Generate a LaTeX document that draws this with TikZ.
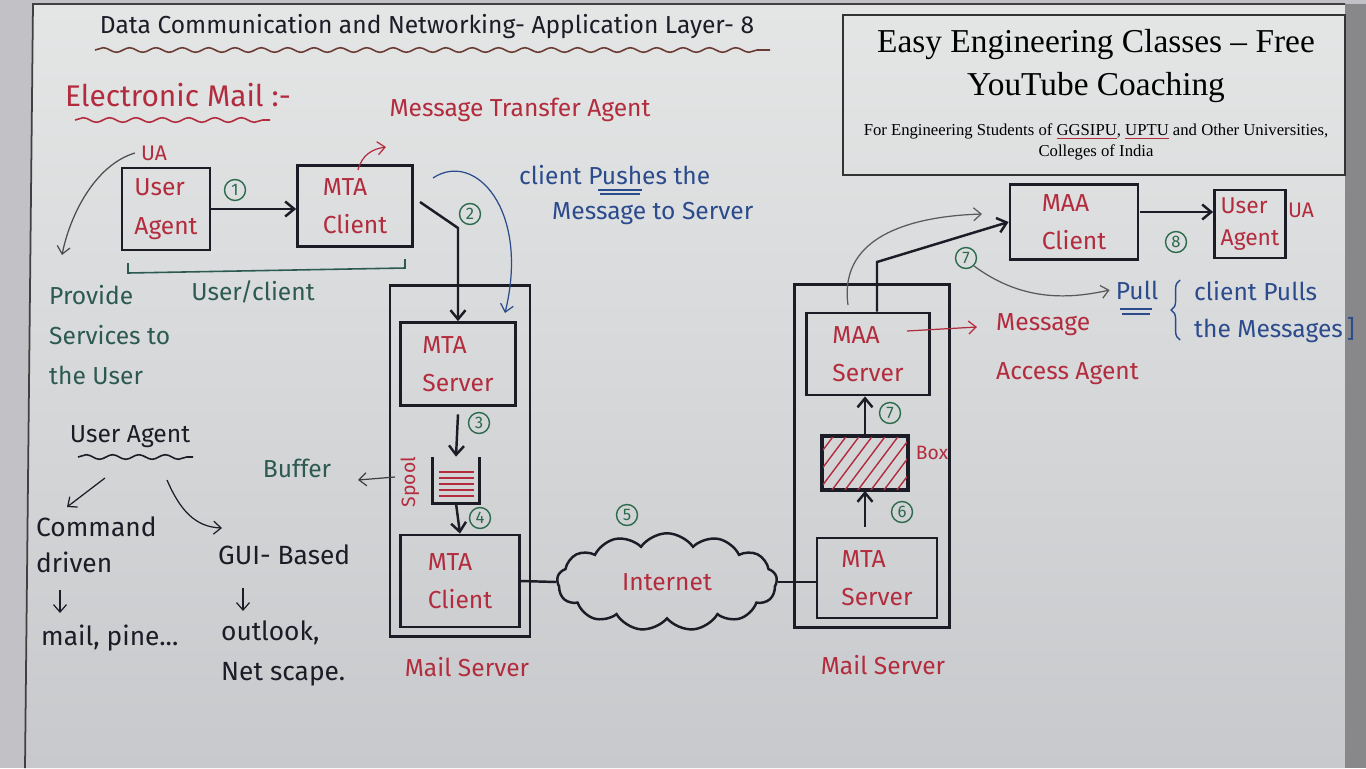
\documentclass[tikz,border=0pt]{standalone}
\usepackage{fontspec}
\setmainfont{Liberation Serif}
\newfontfamily\handfont{Fira Sans}
\usetikzlibrary{shapes.symbols,decorations.pathmorphing,decorations.pathreplacing,arrows.meta}

\definecolor{mred}{HTML}{B32C3E}
\definecolor{mgreen}{HTML}{2C6A4C}
\definecolor{mteal}{HTML}{2D5A50}
\definecolor{mblue}{HTML}{2B4B8C}
\definecolor{mink}{HTML}{1B1C26}
\definecolor{tbrown}{HTML}{6B3C34}
\definecolor{wall}{HTML}{C2C2C6}
\definecolor{boardtop}{HTML}{E4E6E6}
\definecolor{boardbot}{HTML}{C8C9CC}

\newcommand\redul[1]{\rlap{\textcolor{mred}{\underline{\phantom{#1}}}}#1}

\tikzset{
  hand/.style={font=\handfont\fontsize{14}{22}\selectfont},
  box/.style={draw=mink, line width=1.6pt, text=mred, hand, align=left, inner sep=2pt},
  srv/.style={draw=mink, line width=1.6pt, inner sep=0pt},
  num/.style={circle, draw=mgreen, text=mgreen, line width=0.8pt, inner sep=0pt,
    minimum size=0.42cm, font=\handfont\fontsize{9.5}{9.5}\selectfont},
  arr/.style={draw=mink, line width=1.4pt, -{Straight Barb[length=1.8mm,width=3mm]}},
  thinarr/.style={line width=0.7pt, -{Straight Barb[length=1.5mm,width=2.6mm]}},
  wavy/.style={decorate, decoration={snake, amplitude=1.3pt, segment length=15pt}},
}

\begin{document}
\begin{tikzpicture}[x=0.02cm,y=-0.02cm]
	\useasboundingbox (0,0) rectangle (1366,768);
	% board
	\fill[wall] (0,0) rectangle (1366,768);
	\shade[top color=boardtop, bottom color=boardbot] (33,4) -- (1345,4) -- (1345,768) -- (25,768) -- cycle;
	\fill[black!30!wall] (1345,4) rectangle (1366,768);
	\draw[black!75, line width=1pt] (25,768) -- (33,4) -- (1345,4);
	
	% header box
	\node[draw=black!80, line width=0.8pt, minimum width=10.04cm, minimum height=3.2cm] (hdr) at (1094,95) {};
	\node[font=\fontsize{19}{24.5}\selectfont, align=center] (hdrtitle) at (1096,66) {Easy Engineering Classes -- Free\\YouTube Coaching};
	\node[font=\fontsize{9.5}{12}\selectfont, align=center] (hdrsub) at (1096,142) {For Engineering Students of \redul{GGSIPU}, \redul{UPTU} and Other Universities,\\Colleges of India};
	
	% title
	\node[hand, text=mink] (title) at (427,27) {Data Communication and Networking- Application Layer- 8};
	\draw[wavy, tbrown, line width=0.9pt] (95,50) -- (770,50);
	\node[hand, text=mred, font=\handfont\fontsize{17}{20}\selectfont] (email) at (178,95) {Electronic Mail :-};
	\draw[wavy, mred, line width=0.9pt] (75,120) -- (270,120);
	\node[hand, text=mred] (mtalbl) at (520,110) {Message Transfer Agent};
	
	% sender side
	\node[box, minimum width=1.76cm, minimum height=1.64cm] (ua1) at (166,209) {User\\Agent};
	\node[box, minimum width=2.3cm, minimum height=1.62cm] (mtac1) at (355,206) {MTA\\Client};
	\draw[arr] (ua1.east) -- (ua1.east -| mtac1.west);
	\node[num] (n1) at (235,190) {1};
	\draw[thinarr, mred] (358,170) .. controls (362,155) and (372,149) .. (386,147);
	
	\node[hand, text=mred, font=\handfont\fontsize{12}{14}\selectfont] (ualbl) at (154,153) {UA};
	\coordinate (uaend) at (62,255);
	\draw[thinarr, black!70] (ualbl.west) .. controls (95,165) and (70,215) .. (uaend);
	\node[hand, text=mteal, anchor=west, align=left, font=\handfont\fontsize{14}{22.7}\selectfont] (provide) at (43,335) {Provide\\Services to\\the User};
	\draw[mteal, line width=0.9pt] (128,263) -- (128,273) -- (405,268) -- (405,259);
	\node[hand, text=mteal] (ucl) at (253,292) {User/client};
	
	% mail server 1
	\node[srv, minimum width=2.8cm, minimum height=7.02cm] (ms1) at (460,461) {};
	\node[box, minimum width=2.3cm, minimum height=1.66cm] (mtas1) at (458,364) {MTA\\Server};
	\node[minimum width=0.92cm, minimum height=0.92cm, inner sep=0pt] (spool) at (456,480) {};
	\draw[line width=1.4pt, mink] (spool.north west) -- (spool.south west) -- (spool.south east) -- (spool.north east);
	\foreach \yy in {472,478,484,490,496}
		\draw[mred, line width=0.9pt] (439,\yy) -- (474,\yy);
	\node[hand, text=mred, rotate=90, font=\handfont\fontsize{11}{12}\selectfont] (spoollbl) at (410,482) {Spool};
	\node[box, minimum width=2.38cm, minimum height=1.84cm] (mtac2) at (460,581) {MTA\\Client};
	\node[hand, text=mred] (ms1lbl) at (467,667) {Mail Server};
	
	\coordinate (k2) at (458,228);
	\draw[arr] (420,202) -- (k2) -- (k2 |- mtas1.north);
	\node[num] (n2) at (470,214) {2};
	\draw[thinarr, mblue] (433,178) .. controls (475,150) and (530,210) .. (505,313);
	\node[hand, text=mblue, anchor=west] (push1) at (513,175) {client Pushes the};
	\node[hand, text=mblue, anchor=west] (push2) at (546,213) {Message to Server};
	\draw[mblue, line width=0.8pt] (598,190) -- (642,190) (600,194) -- (640,194);
	
	\draw[arr] ([yshift=-0.15cm]mtas1.south) -- (spool.north);
	\node[num] (n3) at (479,423) {3};
	\draw[arr] (spool.south) -- (mtac2.north);
	\node[num] (n4) at (480,518) {4};
	\node[hand, text=mteal] (buffer) at (297,468) {Buffer};
	\coordinate (bufpt) at (358,480);
	\draw[thinarr, black!75] (395,477) -- (bufpt);
	
	% internet
	\node[cloud, draw=mink, line width=1.4pt, cloud puffs=13, cloud puff arc=110, aspect=2.4,
		minimum width=4.4cm, minimum height=1.95cm, hand, text=mred] (inet) at (667,582) {Internet};
	\node[num] (n5) at (627,515) {5};
	\draw[line width=1.4pt, mink] (mtac2.east) -- (inet.west);
	
	% mail server 2
	\node[srv, minimum width=3.1cm, minimum height=6.86cm] (ms2) at (872,456) {};
	\node[box, minimum width=2.46cm, minimum height=1.64cm] (maas) at (868,354) {MAA\\Server};
	\node[srv, minimum width=1.68cm, minimum height=1.06cm] (hbox) at (865,463) {};
	\begin{scope}
		\clip (hbox.south west) rectangle (hbox.north east);
		\foreach \i in {0,...,8}
			\draw[mred, line width=0.8pt] (790+\i*13,494) -- ++(45,-60);
	\end{scope}
	\draw[mink, line width=1.6pt] (hbox.south west) rectangle (hbox.north east);
	\node[hand, text=mred, font=\handfont\fontsize{11}{12}\selectfont] (boxlbl) at (932,453) {Box};
	\node[box, minimum width=2.4cm, minimum height=1.6cm] (mtas2) at (877,578) {MTA\\Server};
	\node[hand, text=mred] (ms2lbl) at (883,665) {Mail Server};
	\draw[line width=1.4pt, mink] (inet.east) -- (inet.east -| mtas2.west);
	
	\draw[arr] (hbox.south |- mtas2.north) ++(0,-10) -- (hbox.south);
	\node[num] (n6) at (902,512) {6};
	\draw[arr] (hbox.north) -- (hbox.north |- maas.south);
	\node[num] (n7a) at (890,413) {7};
	
	\coordinate (maain) at (907,331);
	\coordinate (kma) at (977,327);
	\draw[thinarr, mred] (maain) -- (kma);
	\node[hand, text=mred, anchor=west, align=left, font=\handfont\fontsize{14}{28}\selectfont] (maalbl) at (990,349) {Message\\Access Agent};
	
	% receiver side
	\node[box, minimum width=2.56cm, minimum height=1.5cm] (maac) at (1074,222) {MAA\\Client};
	\node[box, minimum width=1.42cm, minimum height=1.36cm, font=\handfont\fontsize{13}{18}\selectfont] (ua2) at (1250,224) {User\\Agent};
	\node[hand, text=mred, font=\handfont\fontsize{12}{14}\selectfont] (ua2lbl) at (1301,210) {UA};
	\coordinate (k7) at (877,262);
	\draw[arr] (maas.north -| k7) -- (k7) -- (maac.west);
	\draw[thinarr, black!65] (848,305) .. controls (838,232) and (920,216) .. (982,214);
	\node[num] (n7b) at (966,258) {7};
	\coordinate (k8) at (1140,212);
	\draw[arr] (k8) -- (k8 -| ua2.west);
	\node[num] (n8) at (1176,242) {8};
	
	\node[hand, text=mblue] (pull) at (1137,290) {Pull};
	\draw[mblue, line width=0.8pt] (1120,309) -- (1152,309) (1122,314) -- (1150,314);
	\draw[thinarr, black!65] (n7b.south east) .. controls (1020,300) and (1065,300) .. (pull.west);
	\draw[mblue, line width=0.8pt, decorate, decoration={brace, amplitude=5pt}] (1180,340) -- (1180,280);
	\node[hand, text=mblue, anchor=west, align=left, font=\handfont\fontsize{14}{21}\selectfont] (pulltxt) at (1188,312) {client Pulls\\the Messages\,]};
	
	% user agent types
	\node[hand, text=mink] (uatitle) at (130,437) {User Agent};
	\draw[wavy, mink, line width=0.9pt] (78,457) -- (193,457);
	\node[hand, text=mink, anchor=west, align=left, font=\handfont\fontsize{15}{20.4}\selectfont] (cmd) at (30,545) {Command\\driven};
	\node[hand, text=mink, anchor=west, font=\handfont\fontsize{15}{18}\selectfont] (mailpine) at (35,638) {mail, pine...};
	\node[hand, text=mink, anchor=west, font=\handfont\fontsize{15}{18}\selectfont] (gui) at (212,555) {GUI- Based};
	\node[hand, text=mink, anchor=west, align=left, font=\handfont\fontsize{15}{22.7}\selectfont] (outlook) at (215,653) {outlook,\\Net scape.};
	\draw[thinarr, mink] (105,478) -- (67,507);
	\draw[thinarr, mink] (167,480) .. controls (180,510) and (195,527) .. (222,528);
	\draw[thinarr, mink] (60,590) -- (60,613);
	\draw[thinarr, mink] (243,588) -- (243,611);
\end{tikzpicture}
\end{document}
